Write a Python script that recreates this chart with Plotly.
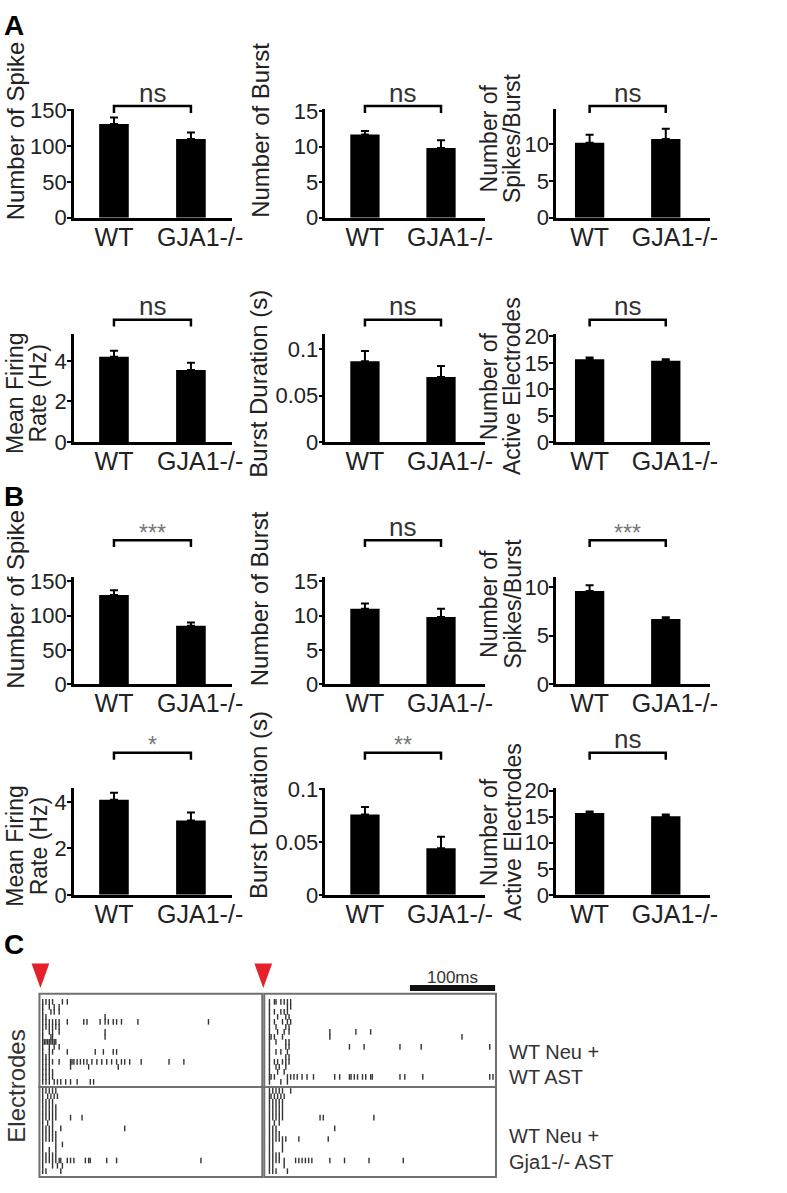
import plotly.graph_objects as go

W, H = 787, 1193
FONT = "Liberation Sans, Arial, sans-serif"

groups = ["WT", "GJA1-/-"]

# ---------- Panel A (means and upper SEM) ----------
A_spike = [131, 110];     A_spike_err = [9, 9]
A_burst = [11.7, 9.8];    A_burst_err = [0.5, 1.1]
A_spb = [10.2, 10.7];     A_spb_err = [1.1, 1.4]
A_mfr = [4.2, 3.55];      A_mfr_err = [0.3, 0.35]
A_bd = [0.087, 0.070];    A_bd_err = [0.011, 0.012]
A_ae = [15.7, 15.4];      A_ae_err = [0.3, 0.3]
A_sig = ["ns", "ns", "ns", "ns", "ns", "ns"]

# ---------- Panel B ----------
B_spike = [130, 85];      B_spike_err = [7, 5]
B_burst = [11.0, 9.8];    B_burst_err = [0.8, 1.2]
B_spb = [9.6, 6.7];       B_spb_err = [0.6, 0.2]
B_mfr = [4.1, 3.2];       B_mfr_err = [0.3, 0.35]
B_bd = [0.076, 0.044];    B_bd_err = [0.007, 0.011]
B_ae = [15.7, 15.1];      B_ae_err = [0.3, 0.3]
B_sig = ["***", "ns", "***", "*", "**", "ns"]

titles = [["Number of Spike"], ["Number of Burst"], ["Number of", "Spikes/Burst"],
          ["Mean Firing", "Rate (Hz)"], ["Burst Duration (s)"], ["Number of", "Active Electrodes"]]
tick_sets = [[0, 50, 100, 150], [0, 5, 10, 15], [0, 5, 10],
             [0, 2, 4], [0, 0.05, 0.1], [0, 5, 10, 15, 20]]
tick_texts = [["0", "50", "100", "150"], ["0", "5", "10", "15"], ["0", "5", "10"],
              ["0", "2", "4"], ["0", "0.05", "0.1"], ["0", "5", "10", "15", "20"]]

# ---------- Panel C raster: spike times (ms) per electrode ----------
LT_spikes = [
    [3.8, 7.6, 11.5, 15.3, 26.8, 32.5],
    [3.8, 11.5, 17.2, 23],
    [3.8, 13.4, 17.2, 23],
    [3.8, 7.6, 76.6],
    [3.8, 7.6, 11.5, 15.3, 19.1, 23, 32.5, 51.7, 55.5, 70.8, 76.6, 80.4, 86.1, 90, 95.7, 114.9, 197.2],
    [3.8, 7.6, 11.5, 15.3, 19.1, 23],
    [3.8, 11.5, 15.3, 23, 76.6],
    [3.8, 13.4, 15.3, 76.6],
    [3.8, 5.7, 7.6, 9.6, 11.5, 13.4, 15.3, 17.2, 19.1],
    [3.8, 11.5, 17.2, 23],
    [3.8, 11.5, 15.3, 32.5, 65.1, 74.6, 86.1, 90],
    [3.8, 7.6, 11.5],
    [3.8, 7.6, 11.5, 15.3, 23, 36.3, 38, 40.2, 44, 47.8, 51.7, 55.5, 61.2, 67, 72.7, 78.5, 84.2, 90, 95.7,
     99.5, 105.3, 118.7, 151.2, 168.5],
    [3.8, 7.6, 11.5, 36.3, 57.4, 91.9],
    [3.8, 7.6, 11.5, 15.3],
    [3.8, 7.6, 11.5, 15.3],
    [3.8, 7.6, 11.5, 17.2, 21, 24.9, 30.6, 36.3, 44, 59.3, 63.2],
]
LB_spikes = [
    [3.8, 7.6, 11.5, 15.3, 19.1],
    [3.8, 9.6, 13.4, 17.2, 21],
    [3.8, 7.6, 11.5, 15.3],
    [3.8, 7.6, 11.5, 15.3, 19.1],
    [3.8, 7.6, 11.5, 15.3, 19.1],
    [3.8, 7.6, 11.5, 15.3, 19.1, 36.3, 49.7],
    [3.8, 9.6, 15.3],
    [3.8, 7.6, 11.5, 15.3, 24.9, 99.5],
    [3.8, 7.6, 11.5, 15.3, 19.1],
    [3.8, 7.6, 11.5, 15.3, 19.1],
    [3.8, 19.1, 26.8],
    [3.8, 11.5, 19.1],
    [3.8, 7.6, 11.5, 15.3, 19.1],
    [3.8, 7.6, 11.5, 15.3, 19.1, 23, 24.9, 32.5, 36.3, 40.2, 53.6, 57.4, 59.3, 78.5, 90, 188.4],
    [3.8, 15.3, 21, 26.8],
    [3.8, 7.6, 24.9],
]
RT_spikes = [
    [6.1, 11.9, 13.8, 19.5, 23.4, 27.2, 31],
    [6.1, 27.2, 31],
    [6.1, 11.9, 19.5, 23.4, 27.2],
    [6.1, 15.7, 25.3, 29.1],
    [6.1, 11.9, 21.4, 27.2, 31],
    [6.1, 13.8, 25.3, 29.1],
    [6.1, 15.7, 23.4, 29.1, 77, 107.6, 124.9],
    [6.1, 8, 11.9, 21.4, 77, 232.1],
    [6.1, 13.8, 25.3, 29.1],
    [6.1, 25.3, 29.1, 100, 117.2, 159.3, 184.2, 264.7],
    [6.1, 13.8, 19.5, 27.2],
    [6.1, 25.3, 29.1],
    [6.1, 11.9, 15.7, 21.4, 25.3, 29.1],
    [6.1, 13.8, 17.6, 25.3],
    [6.1, 15.7, 23.4],
    [6.1, 8, 11.9, 27.2, 31, 34.8, 38.7, 44.4, 50.2, 57.8, 82.7, 88.5, 100, 101.9, 105.7, 109.5, 115.3,
     119.1, 124.9, 126.8, 159.3, 165, 186.1, 264.7, 268.5],
    [6.1, 19.5, 27.2],
]
RB_spikes = [
    [6.1, 10, 13.8, 17.6, 21.4, 31],
    [6.1, 8, 11.9, 15.7, 19.5, 23.4],
    [6.1, 10, 13.8, 17.6, 21.4],
    [6.1, 10, 13.8, 17.6, 21.4],
    [6.1, 10, 13.8, 17.6, 21.4],
    [6.1, 10, 13.8, 17.6, 21.4, 65.5, 69.3, 128.7],
    [6.1, 11.9, 17.6],
    [6.1, 10, 13.8, 82.7],
    [6.1, 10, 13.8, 17.6],
    [6.1, 10, 13.8, 17.6, 21.4, 25.3, 40.6, 75.1],
    [6.1, 10, 21.4],
    [6.1, 10, 21.4],
    [6.1, 10, 13.8, 17.6],
    [6.1, 10, 13.8, 17.6, 23.4, 36.8, 40.6, 44.4, 48.3, 52.1, 55.9, 77, 94.2, 123, 163.2],
    [6.1, 10, 23.4],
    [6.1, 10, 13.8, 27.2],
]
scale_bar_ms = 100
condition_labels = [["WT Neu +", "WT AST"], ["WT Neu +", "Gja1-/- AST"]]


def px(x):
    return x / W


def py(y):
    return 1 - y / H


fig = go.Figure()
layout = {}
annotations = []
shapes = []

means = [A_spike, A_burst, A_spb, A_mfr, A_bd, A_ae, B_spike, B_burst, B_spb, B_mfr, B_bd, B_ae]
errs = [A_spike_err, A_burst_err, A_spb_err, A_mfr_err, A_bd_err, A_ae_err,
        B_spike_err, B_burst_err, B_spb_err, B_mfr_err, B_bd_err, B_ae_err]
sigs = A_sig + B_sig

# layout geometry (pixels)
col_x = [(75, 235, -0.52, 1.53), (330, 492, -0.52, 1.58), (564, 720, -0.44, 1.58)]
rows = [dict(top=100, zero=211, br=97, sig=84),
        dict(top=330, zero=440, br=315, sig=301),
        dict(top=578, zero=687, br=540, sig=527),
        dict(top=793, zero=902, br=757, sig=743)]
yranges = [[0, 152], [0, 15.3], [0, 14.8],
           [0, 5.3], [0, 0.116], [0, 20.4],
           [0, 155.7], [0, 15.6], [0, 11.0],
           [0, 4.6], [0, 0.101], [0, 20.5]]
title_pos = [(16, 122), (264, 122), (508, 130),
             (27, 390), (262, 380), (508, 383),
             (16, 600), (264, 600), (508, 605),
             (27, 852), (262, 810), (508, 838)]

for i in range(12):
    r, c = divmod(i, 3)
    n = i + 1
    xa = "x" if n == 1 else f"x{n}"
    ya = "y" if n == 1 else f"y{n}"
    g = rows[r]
    x0, x1, xr0, xr1 = col_x[c]
    fig.add_trace(go.Bar(
        x=[0, 1], y=means[i], width=0.385, marker=dict(color="black", line=dict(width=0)),
        error_y=dict(type="data", symmetric=False, array=errs[i], arrayminus=[0, 0],
                     color="black", thickness=2, width=4),
        xaxis=xa, yaxis=ya, showlegend=False, hoverinfo="skip"))
    layout["xaxis" if n == 1 else f"xaxis{n}"] = dict(
        domain=[px(x0), px(x1)], anchor=ya, range=[xr0, xr1],
        tickvals=[0, 1.12], ticktext=groups, ticks="", showgrid=False, zeroline=False,
        showline=True, linecolor="black", linewidth=2.5, ticklabelstandoff=-5,
        tickfont=dict(family=FONT, size=25, color="#222"))
    ti = i % 6
    layout["yaxis" if n == 1 else f"yaxis{n}"] = dict(
        domain=[py(g["zero"]), py(g["top"])], anchor=xa, range=yranges[i],
        tickvals=tick_sets[ti], ticktext=tick_texts[ti], ticks="outside", ticklen=4,
        tickwidth=2, tickcolor="black", showgrid=False, zeroline=False,
        showline=True, linecolor="black", linewidth=2.5, ticklabelstandoff=-4,
        tickfont=dict(family=FONT, size=22, color="#222"))
    # significance bracket
    yb, yb2 = py(g["br"]), py(g["br"] + 7)
    shapes.append(dict(type="path", xref=xa, yref="paper",
                       path=f"M 0,{yb2} L 0,{yb} L 1,{yb} L 1,{yb2}",
                       line=dict(color="black", width=2.5)))
    s = sigs[i]
    if s == "ns":
        annotations.append(dict(xref=xa, yref="paper", x=0.5, y=py(g["sig"]), text=s,
                                showarrow=False, xanchor="center", yanchor="middle",
                                font=dict(family=FONT, size=26, color="#333")))
    else:
        annotations.append(dict(xref=xa, yref="paper", x=0.5, y=py(g["sig"] + 6), text=s,
                                showarrow=False, xanchor="center", yanchor="middle",
                                font=dict(family=FONT, size=23, color="#777")))
    tx, ty = title_pos[i]
    lines = titles[ti]
    nl = len(lines)
    for li, line in enumerate(lines):
        lx = tx + (li - (nl - 1) / 2) * 24
        annotations.append(dict(xref="paper", yref="paper", x=px(lx), y=py(ty), text=line,
                                textangle=-90, showarrow=False, xanchor="center", yanchor="middle",
                                font=dict(family=FONT, size=24 if nl == 1 else 23, color="#222")))

# ---------- Raster panels ----------
raster = [
    (LT_spikes, (40, 266), (1003, 1098), [0, 260], [17.0, -1.6]),
    (LB_spikes, (40, 266), (1098, 1190), [0, 260], [16.1, -0.75]),
    (RT_spikes, (268, 503), (1003, 1098), [0, 272], [17.0, -1.6]),
    (RB_spikes, (268, 503), (1098, 1190), [0, 272], [16.1, -0.75]),
]
for k, (data, (rx0, rx1), (ry0, ry1), xr, yr) in enumerate(raster):
    n = 13 + k
    xs, ys = [], []
    for ri, row in enumerate(data):
        xs.extend(row)
        ys.extend([ri] * len(row))
    fig.add_trace(go.Scatter(
        x=xs, y=ys, mode="markers", xaxis=f"x{n}", yaxis=f"y{n}", showlegend=False,
        hoverinfo="skip", cliponaxis=False,
        marker=dict(symbol="line-ns", size=4, line=dict(width=1.4, color="#333"))))
    layout[f"xaxis{n}"] = dict(domain=[px(rx0), px(rx1)], anchor=f"y{n}", range=xr, visible=False)
    layout[f"yaxis{n}"] = dict(domain=[py(ry1), py(ry0)], anchor=f"x{n}", range=yr, visible=False)
    shapes.append(dict(type="rect", xref="paper", yref="paper", x0=px(rx0), x1=px(rx1),
                       y0=py(ry1), y1=py(ry0), line=dict(color="#707070", width=2),
                       fillcolor="rgba(0,0,0,0)"))

# stimulus triangles
for cx in (41, 267):
    shapes.append(dict(type="path", xref="paper", yref="paper",
                       path=f"M {px(cx - 9)},{py(972)} L {px(cx + 9)},{py(972)} L {px(cx)},{py(997)} Z",
                       fillcolor="#e5202a", line=dict(width=0)))

# scale bar (100 ms on right raster axis)
shapes.append(dict(type="line", xref="x15", yref="paper", x0=271 - scale_bar_ms, x1=271,
                   y0=py(997), y1=py(997), line=dict(color="#111", width=6)))
annotations.append(dict(xref="x15", yref="paper", x=271 - scale_bar_ms / 2, y=py(986),
                        text=f"{scale_bar_ms}ms", showarrow=False, xanchor="center",
                        yanchor="middle", font=dict(family=FONT, size=17, color="#333")))

# condition labels
for (l1, l2), (y1, y2) in zip(condition_labels, [(1062, 1088), (1148, 1175)]):
    for t, yy in ((l1, y1), (l2, y2)):
        annotations.append(dict(xref="paper", yref="paper", x=px(514), y=py(yy), text=t,
                                showarrow=False, xanchor="left", yanchor="middle",
                                font=dict(family=FONT, size=20, color="#333")))

annotations.append(dict(xref="paper", yref="paper", x=px(17), y=py(1097), text="Electrodes",
                        textangle=-90, showarrow=False, xanchor="center", yanchor="middle",
                        font=dict(family=FONT, size=24, color="#333")))

# panel letters
for letter, yy in (("A", 15), ("B", 495), ("C", 953)):
    annotations.append(dict(xref="paper", yref="paper", x=px(2), y=py(yy), text=f"<b>{letter}</b>",
                            showarrow=False, xanchor="left", yanchor="middle",
                            font=dict(family=FONT, size=28, color="black")))

layout.update(dict(width=W, height=H, margin=dict(l=0, r=0, t=0, b=0),
                   paper_bgcolor="white", plot_bgcolor="rgba(0,0,0,0)",
                   showlegend=False, annotations=annotations, shapes=shapes,
                   font=dict(family=FONT)))
fig.update_layout(**layout)
fig.write_html("out.html", config={"displayModeBar": False},
               post_script="document.body.style.margin='0px';")
